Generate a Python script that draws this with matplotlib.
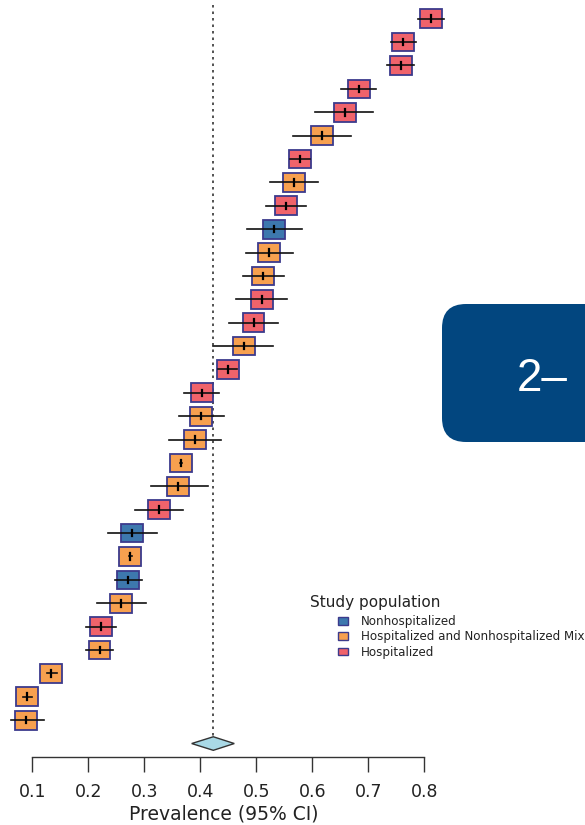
import matplotlib
matplotlib.use("Agg")
import matplotlib.pyplot as plt
from matplotlib.patches import Rectangle, Polygon, Patch, FancyBboxPatch
from matplotlib.transforms import IdentityTransform

plt.rcParams['font.family'] = ['DejaVu Sans']

# study estimates, top to bottom
est = [0.812, 0.7625, 0.758, 0.683, 0.658, 0.617, 0.578, 0.568, 0.553, 0.532,
       0.523, 0.5125, 0.510, 0.495, 0.4775, 0.449, 0.4025, 0.401, 0.390, 0.365,
       0.361, 0.326, 0.278, 0.275, 0.2715, 0.258, 0.222, 0.220, 0.134, 0.091, 0.089]
lower = [0.788, 0.740, 0.734, 0.652, 0.604, 0.566, 0.560, 0.524, 0.517, 0.483,
         0.482, 0.476, 0.463, 0.452, 0.423, 0.432, 0.371, 0.362, 0.344, 0.363,
         0.312, 0.283, 0.236, 0.273, 0.248, 0.216, 0.196, 0.196, 0.126, 0.083, 0.0625]
upper = [0.835, 0.785, 0.781, 0.713, 0.708, 0.669, 0.596, 0.611, 0.588, 0.582,
         0.565, 0.549, 0.555, 0.539, 0.530, 0.466, 0.434, 0.442, 0.4375, 0.367,
         0.414, 0.369, 0.323, 0.278, 0.296, 0.3025, 0.249, 0.245, 0.145, 0.100, 0.120]
# H = hospitalized, M = mix, N = nonhospitalized
group = ['H', 'H', 'H', 'H', 'H', 'M', 'H', 'M', 'H', 'N',
         'M', 'M', 'H', 'H', 'M', 'H', 'H', 'M', 'M', 'M',
         'M', 'H', 'N', 'M', 'N', 'M', 'H', 'M', 'M', 'M', 'M']

pooled_est = 0.4232
pooled_lo = 0.3846
pooled_hi = 0.4607

group_names = {'N': 'Nonhospitalized',
               'M': 'Hospitalized and Nonhospitalized Mix',
               'H': 'Hospitalized'}
colors = {'N': '#3d78ae', 'M': '#f7a04f', 'H': '#f0636b'}
edge = '#3c3a8c'

xticks = [0.1, 0.2, 0.3, 0.4, 0.5, 0.6, 0.7, 0.8]

fig = plt.figure(figsize=(5.85, 8.25), dpi=100)
ax = fig.add_axes([0, 68 / 825, 1, 757 / 825])

n = len(est)
rows = list(range(1, n + 1))
half_w = 0.0196
half_h = 0.40

for y, e, lo, hi, g in zip(rows, est, lower, upper, group):
    ax.add_patch(Rectangle((e - half_w, y - half_h), 2 * half_w, 2 * half_h,
                           facecolor=colors[g], edgecolor=edge, lw=1.3, zorder=2))
    ax.plot([lo, hi], [y, y], color='#111111', lw=1.2, zorder=3)
    ax.plot([e, e], [y - 0.14, y + 0.14], color='black', lw=1.6, zorder=3)

# pooled estimate
yd = n + 1
dh = 0.29
ax.add_patch(Polygon([(pooled_lo, yd), (pooled_est, yd - dh), (pooled_hi, yd), (pooled_est, yd + dh)],
                     closed=True, facecolor='#a9d9e6', edgecolor='#333333', lw=1.0, zorder=2))
ax.plot([pooled_est, pooled_est], [0.42, yd - dh], color='#444444', lw=1.3,
        linestyle=(0, (1.4, 2.2)), zorder=1)

ax.set_xlim(0.1 - 32.3 / 560, 0.1 + (585 - 32.3) / 560)
ax.set_ylim(32.576, 0.199)

for s in ['top', 'right', 'left']:
    ax.spines[s].set_visible(False)
ax.spines['bottom'].set_bounds(0.1, 0.8)
ax.spines['bottom'].set_color('#333333')
ax.spines['bottom'].set_linewidth(1.0)
ax.set_yticks([])
ax.set_xticks(xticks)
ax.set_xticklabels([f'{t:.1f}' for t in xticks])
ax.tick_params(axis='x', length=11, width=1.0, color='#333333', labelsize=12.5,
               pad=8, labelcolor='#222222')
ax.set_xlabel('Prevalence (95% CI)', fontsize=13.5, color='#222222')
ax.xaxis.set_label_coords(224 / 585, -0.0625)

# legend
fig.text(310 / 585, 1 - 602 / 825, 'Study population', fontsize=11,
         ha='left', va='center', color='#222222')
handles = [Patch(facecolor=colors[k], edgecolor=edge, lw=1.0, label=group_names[k])
           for k in ['N', 'M', 'H']]
fig.legend(handles=handles, loc='upper left', bbox_to_anchor=(338 / 585, 1 - 615 / 825),
           frameon=False, fontsize=8.6, handlelength=0.8, handleheight=0.6,
           handletextpad=1.1, labelspacing=0.2, borderpad=0, borderaxespad=0,
           labelcolor='#222222')

# slide tab overlay
fig.add_artist(FancyBboxPatch((442, 383), 200, 138,
                              boxstyle='round,pad=0,rounding_size=24',
                              facecolor='#02467f', edgecolor='none',
                              transform=IdentityTransform(), zorder=5))
fig.text(517 / 585, 1 - 391 / 825, '2–', fontsize=33, color='white',
         family='Liberation Sans', ha='left', va='baseline', zorder=6)

fig.savefig('out.png', dpi=100)
